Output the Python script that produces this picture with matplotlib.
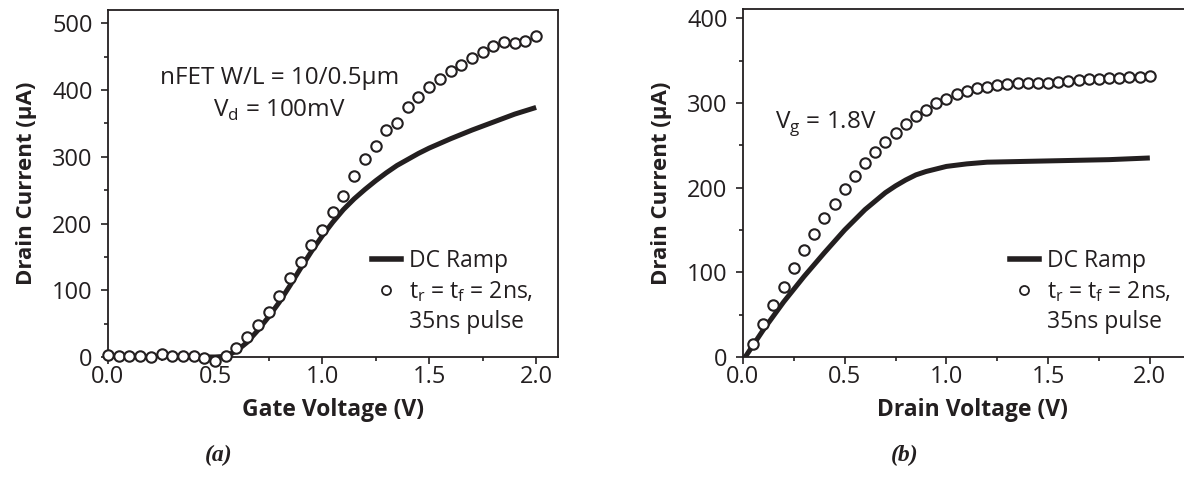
#!/usr/bin/env python3
import matplotlib
matplotlib.use("Agg")
import matplotlib.pyplot as plt
from matplotlib.lines import Line2D
from matplotlib.ticker import FixedLocator, MultipleLocator

# (a) Id vs Vg, Vd = 100mV
vg_pulse = [0.00, 0.05, 0.10, 0.15, 0.20, 0.25, 0.30, 0.35, 0.40, 0.45,
            0.50, 0.55, 0.60, 0.65, 0.70, 0.75, 0.80, 0.85, 0.90, 0.95,
            1.00, 1.05, 1.10, 1.15, 1.20, 1.25, 1.30, 1.35, 1.40, 1.45,
            1.50, 1.55, 1.60, 1.65, 1.70, 1.75, 1.80, 1.85, 1.90, 1.95, 2.00]
id_pulse_a = [2.5, 2, 2, 2, 0, 5, 1.5, 1.5, 2, -1,
              -5.5, 1, 14, 30, 48, 67, 92, 118, 142, 168,
              191, 217, 242, 271, 296, 316, 340, 351, 374, 389,
              405, 417, 428, 437, 448, 457, 466, 472, 470, 473, 481]
vg_dc = [0.0, 0.2, 0.4, 0.5, 0.55, 0.6, 0.65, 0.7, 0.75, 0.8, 0.85, 0.9,
         0.95, 1.0, 1.05, 1.1, 1.15, 1.2, 1.25, 1.3, 1.35, 1.4, 1.45, 1.5,
         1.6, 1.7, 1.8, 1.9, 2.0]
id_dc_a = [0, 0, 0, 0, 1, 9, 22, 40, 60, 82, 107, 133,
           158, 181, 202, 221, 237, 251, 264, 276, 287, 296, 305, 313,
           327, 340, 352, 364, 374]

# (b) Id vs Vd, Vg = 1.8V
vd_pulse = [0.05, 0.10, 0.15, 0.20, 0.25, 0.30, 0.35, 0.40, 0.45, 0.50,
            0.55, 0.60, 0.65, 0.70, 0.75, 0.80, 0.85, 0.90, 0.95, 1.00,
            1.05, 1.10, 1.15, 1.20, 1.25, 1.30, 1.35, 1.40, 1.45, 1.50,
            1.55, 1.60, 1.65, 1.70, 1.75, 1.80, 1.85, 1.90, 1.95, 2.00]
id_pulse_b = [15, 39, 61, 83, 105, 126, 145, 164, 181, 198,
              214, 229, 242, 254, 265, 275, 285, 292, 300, 305,
              310, 314, 317, 319, 321, 322, 323, 323, 323.5, 324,
              325, 326, 327, 328, 328.5, 329, 329.5, 330, 331, 332]
vd_dc = [0.0, 0.1, 0.2, 0.3, 0.4, 0.5, 0.6, 0.7, 0.75, 0.8, 0.85, 0.9,
         0.95, 1.0, 1.1, 1.2, 1.4, 1.6, 1.8, 2.0]
id_dc_b = [-4, 32, 65, 95, 123, 150, 174, 194, 202, 209, 215, 219,
           222, 225, 228, 230, 231, 232, 233, 235]

plt.rcParams['font.family'] = ['Open Sans', 'DejaVu Sans']
plt.rcParams['mathtext.fontset'] = 'custom'
plt.rcParams['mathtext.rm'] = 'Open Sans'
ink = '#231f20'

fig = plt.figure(figsize=(11.84, 4.95), dpi=100)
ax1 = fig.add_axes([0.0912, 0.2788, 0.3797, 0.701])
ax2 = fig.add_axes([0.6275, 0.2788, 0.378, 0.7024])

pulse_label = r't$_\mathrm{r}$ = t$_\mathrm{f}$ = 2ns,'
x_major = [0.0, 0.5, 1.0, 1.5, 2.0]
x_minor = [0.25, 0.75, 1.25, 1.75]


def style(ax, xlabel, ymax, xmax, xlabel_x):
    ax.set_xlim(0, xmax)
    ax.set_ylim(0, ymax)
    ax.xaxis.set_major_locator(FixedLocator(x_major))
    ax.xaxis.set_minor_locator(FixedLocator(x_minor))
    ax.yaxis.set_major_locator(MultipleLocator(100))
    ax.yaxis.set_minor_locator(MultipleLocator(50))
    ax.xaxis.set_major_formatter(lambda v, p: f"{v:.1f}")
    ax.tick_params(which='major', direction='out', length=5, width=1.2,
                   colors=ink, labelsize=17)
    ax.tick_params(which='minor', direction='out', length=3, width=1.2,
                   colors=ink)
    ax.tick_params(axis='x', which='major', pad=1)
    ax.tick_params(axis='y', which='major', pad=6)
    for s in ax.spines.values():
        s.set_linewidth(1.3)
        s.set_color(ink)
    ax.set_xlabel(xlabel, fontweight='bold', color=ink, fontsize=16.5,
                  labelpad=6, x=xlabel_x)
    ax.set_ylabel('Drain Current (\u00b5A)', fontweight='bold', color=ink,
                  fontsize=16, labelpad=11)


def add_legend(ax, anchor):
    handles = [Line2D([], [], color=ink, lw=4),
               Line2D([], [], ls='none', marker='o', ms=6.5, mfc='white',
                      mec=ink, mew=1.3),
               Line2D([], [], ls='none')]
    ax.legend(handles, ['DC Ramp', pulse_label, '35ns pulse'],
              loc='upper left', bbox_to_anchor=anchor, frameon=False,
              handlelength=1.25, handletextpad=0.35, labelspacing=0.25,
              borderpad=0, borderaxespad=0, fontsize=16.5,
              labelcolor=ink)


# (a)
ax1.plot(vg_dc, id_dc_a, color=ink, lw=3.6, solid_capstyle='butt')
ax1.plot(vg_pulse, id_pulse_a, ls='none', marker='o', ms=7.5, mfc='white',
         mec=ink, mew=1.5, clip_on=False, zorder=3)
style(ax1, 'Gate Voltage (V)', 520, 2.1, 0.5)
ax1.text(0.80, 418, 'nFET W/L = 10/0.5\u00b5m', ha='center', va='center',
         color=ink, fontsize=17.5)
ax1.text(0.80, 370, r'V$_\mathrm{d}$ = 100mV', ha='center', va='center',
         color=ink, fontsize=17.5)
add_legend(ax1, (0.587, 0.31))

# (b)
ax2.plot(vd_dc, id_dc_b, color=ink, lw=3.6, solid_capstyle='butt')
ax2.plot(vd_pulse, id_pulse_b, ls='none', marker='o', ms=7.5, mfc='white',
         mec=ink, mew=1.5, clip_on=False, zorder=3)
style(ax2, 'Drain Voltage (V)', 410.5, 2.2, 0.512)
ax2.text(0.157, 276, r'V$_\mathrm{g}$ = 1.8V', ha='left', va='center',
         color=ink, fontsize=17.5)
add_legend(ax2, (0.597, 0.31))

fig.text(219 / 1184, 1 - 455 / 495, '(a)', ha='center', va='center',
         fontsize=17, fontstyle='italic', fontweight='bold',
         family='Liberation Serif', color=ink)
fig.text(905 / 1184, 1 - 455 / 495, '(b)', ha='center', va='center',
         fontsize=17, fontstyle='italic', fontweight='bold',
         family='Liberation Serif', color=ink)

fig.savefig('out.png', dpi=100)
